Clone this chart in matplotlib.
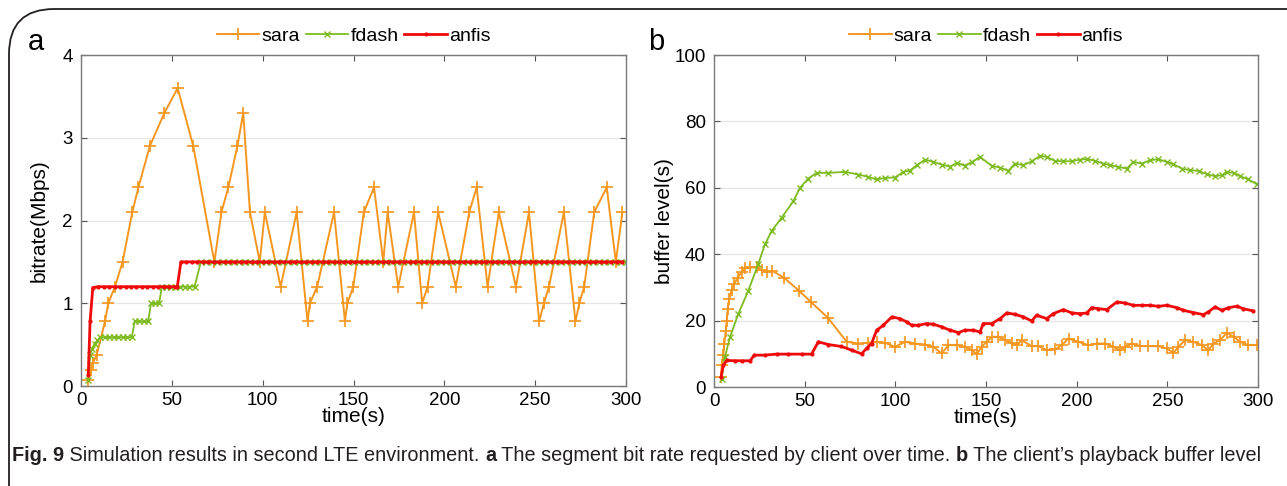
import matplotlib
matplotlib.use("Agg")
import matplotlib.pyplot as plt
from matplotlib.patches import FancyBboxPatch

plt.rcParams['font.family'] = ['Liberation Sans', 'DejaVu Sans']

# ---- (a) requested bitrate, Mbps ----
sara_a_t = [4, 5.5, 6.5, 8.6, 13.2, 15, 18.7, 22.9, 28.2, 31.6, 37.9, 45.9, 53.2,
            61.8, 73.4, 77.3, 81.1, 86.1, 89.3, 93, 98.4, 101.2, 109.9, 118.7,
            124.7, 126, 130, 139.3, 145.3, 146.6, 149.9, 155.7, 161.3, 166.4,
            168.8, 174.6, 183.3, 187.8, 190.8, 196.6, 206.3, 213.7, 217.8, 223.8,
            230, 239.4, 246.6, 252.2, 254.8, 257.6, 265.8, 272.2, 274.3, 277,
            282.5, 289.4, 294.4, 298]
sara_a_v = [0.07, 0.19, 0.28, 0.37, 0.78, 1.0, 1.2, 1.5, 2.1, 2.4, 2.9, 3.3, 3.6,
            2.9, 1.5, 2.1, 2.4, 2.9, 3.3, 2.1, 1.5, 2.1, 1.2, 2.1,
            0.78, 1.0, 1.2, 2.1, 0.78, 1.0, 1.2, 2.1, 2.4, 1.5,
            2.1, 1.2, 2.1, 1.0, 1.2, 2.1, 1.2, 2.1, 2.4, 1.2,
            2.1, 1.2, 2.1, 0.78, 1.0, 1.2, 2.1, 0.78, 1.0, 1.2,
            2.1, 2.4, 1.5, 2.1]

fdash_a_t = [4, 5, 6, 7.5, 9, 10.5, 13, 15.5, 18, 20.5, 23, 25.5, 28, 29.5, 32,
             34.5, 37, 38.5, 41, 43, 44.5, 47, 49.5, 52, 54.5, 57, 59.5, 62.5,
             66, 69, 72, 75, 78, 81, 84, 87, 90, 93, 96, 99, 102, 105, 108, 111,
             114, 117, 120, 123, 126, 129, 132, 135, 138, 141, 144, 147, 150,
             153, 156, 159, 162, 165, 168, 171, 174, 177, 180, 183, 186, 189,
             192, 195, 198, 201, 204, 207, 210, 213, 216, 219, 222, 225, 228,
             231, 234, 237, 240, 243, 246, 249, 252, 255, 258, 261, 264, 267,
             270, 273, 276, 279, 282, 285, 288, 291, 294, 297, 300]
fdash_a_v = [0.07, 0.37, 0.45, 0.51, 0.55, 0.59, 0.59, 0.59, 0.59, 0.59, 0.59,
             0.59, 0.59, 0.78, 0.78, 0.78, 0.78, 1.0, 1.0, 1.0, 1.2, 1.2, 1.2,
             1.2, 1.2, 1.2, 1.2, 1.2,
             1.5, 1.5, 1.5, 1.5, 1.5, 1.5, 1.5, 1.5, 1.5, 1.5, 1.5, 1.5, 1.5,
             1.5, 1.5, 1.5, 1.5, 1.5, 1.5, 1.5, 1.5, 1.5, 1.5, 1.5, 1.5, 1.5,
             1.5, 1.5, 1.5, 1.5, 1.5, 1.5, 1.5, 1.5, 1.5, 1.5, 1.5, 1.5, 1.5,
             1.5, 1.5, 1.5, 1.5, 1.5, 1.5, 1.5, 1.5, 1.5, 1.5, 1.5, 1.5, 1.5,
             1.5, 1.5, 1.5, 1.5, 1.5, 1.5, 1.5, 1.5, 1.5, 1.5, 1.5, 1.5, 1.5,
             1.5, 1.5, 1.5, 1.5, 1.5, 1.5, 1.5, 1.5, 1.5, 1.5, 1.5, 1.5, 1.5,
             1.5]

anfis_a_t = [4, 5, 6.5, 9.5, 12.5, 15.5, 18.5, 21.5, 24.5, 27.5, 30.5, 33.5,
             36.5, 39.5, 42.5, 45.5, 48.5, 51.5, 53, 55, 58, 61, 64, 67, 70, 73,
             76, 79, 82, 85, 88, 91, 94, 97, 100, 103, 106, 109, 112, 115, 118,
             121, 124, 127, 130, 133, 136, 139, 142, 145, 148, 151, 154, 157,
             160, 163, 166, 169, 172, 175, 178, 181, 184, 187, 190, 193, 196,
             199, 202, 205, 208, 211, 214, 217, 220, 223, 226, 229, 232, 235,
             238, 241, 244, 247, 250, 253, 256, 259, 262, 265, 268, 271, 274,
             277, 280, 283, 286, 289, 292, 295, 298]
anfis_a_v = [0.13, 0.78, 1.19, 1.2, 1.2, 1.2, 1.2, 1.2, 1.2, 1.2, 1.2, 1.2,
             1.2, 1.2, 1.2, 1.2, 1.2, 1.2, 1.2, 1.5, 1.5, 1.5, 1.5, 1.5, 1.5,
             1.5, 1.5, 1.5, 1.5, 1.5, 1.5, 1.5, 1.5, 1.5, 1.5, 1.5, 1.5, 1.5,
             1.5, 1.5, 1.5, 1.5, 1.5, 1.5, 1.5, 1.5, 1.5, 1.5, 1.5, 1.5, 1.5,
             1.5, 1.5, 1.5, 1.5, 1.5, 1.5, 1.5, 1.5, 1.5, 1.5, 1.5, 1.5, 1.5,
             1.5, 1.5, 1.5, 1.5, 1.5, 1.5, 1.5, 1.5, 1.5, 1.5, 1.5, 1.5, 1.5,
             1.5, 1.5, 1.5, 1.5, 1.5, 1.5, 1.5, 1.5, 1.5, 1.5, 1.5, 1.5, 1.5,
             1.5, 1.5, 1.5, 1.5, 1.5, 1.5, 1.5, 1.5, 1.5, 1.5, 1.5]

# ---- (b) buffer level, s ----
sara_b_t = [4, 4.2, 5.1, 5.7, 6.5, 7, 7.6, 8.4, 9.7, 11.2, 13, 15.3, 17.1, 19.9,
            23.6, 26.3, 29, 32.2, 38.6, 47.1, 53.5, 62.7, 73.2, 79.6, 85.1,
            89.7, 94.3, 99.8, 105.4, 110.9, 116.4, 121, 125.6, 129.3, 133.9,
            138.4, 142.1, 144.9, 147.6, 150.4, 153.2, 156.8, 160.5, 164.2,
            166.9, 169.7, 175.2, 178.9, 183.5, 188.1, 191.8, 195.5, 201, 206.5,
            211.1, 215.7, 220.3, 224, 226.7, 230.4, 235, 239.6, 245.1, 249.7,
            253.4, 256.1, 259.8, 264.4, 269, 272.6, 275.4, 279, 282.8, 286.5,
            290.2, 294.7, 299.3]
sara_b_v = [3, 6.5, 9.5, 13, 17, 20, 23.6, 26.6, 29.1, 31.1, 32.9, 34.7, 35.7,
            36, 36, 35.2, 34.7, 35, 32.9, 28.9, 25.6, 20.9, 13.6, 13.1, 13.3,
            13.6, 13.3, 12.1, 13.6, 13.1, 12.8, 12.1, 10.1, 12.6, 12.6,
            12.1, 11.1, 9.9, 12.1, 13.6, 15.1, 15.1, 14.1, 13.3,
            12.6, 14.1, 12.3, 12.3, 11.1, 11.3, 12.6, 14.6, 13.6, 12.6,
            13.1, 13.1, 12.1, 11.1, 12.1, 13.1, 12.3, 12.3, 12.3, 11.6,
            10.3, 12.1, 14.1, 13.6, 12.6, 11.1, 13.1, 14.1, 16.3, 15.1,
            13.6, 12.6, 12.6]

fdash_b_t = [4.2, 6, 8.8, 13.4, 18.9, 24.4, 28.1, 31.8, 37.3, 43.8, 47.4, 52,
             56.6, 62.7, 72.3, 79.6, 85, 89.7, 94.3, 99.8, 104.4, 108, 111.8,
             116.4, 121, 125.5, 130.2, 133.9, 138.4, 142.1, 146.7, 153.2, 157.8,
             162.3, 166, 170.6, 175.2, 179.8, 183.5, 188.1, 192.7, 197.3, 201.9,
             205.6, 210.2, 214.7, 218.4, 223, 227.6, 231.3, 235.9, 240.5, 245.1,
             249.7, 253.4, 258, 262.6, 267.2, 271.7, 276.3, 280, 282.8, 286.5,
             290.2, 294.7, 299.3]
fdash_b_v = [2.5, 9, 15, 22, 29, 37, 43, 47, 51, 56, 60, 62.8,
             64.5, 64.5, 64.8, 64, 63.3, 62.5, 63, 63.1, 64.8, 65.2, 66.8,
             68.5, 67.8, 67, 66.4, 67.5, 66.7, 67.7, 69.3, 66.6, 66.1,
             65.1, 67.3, 66.8, 68, 69.6, 69.3, 68.1, 68, 68, 68.5,
             68.7, 68.1, 67.3, 66.8, 66.3, 65.8, 67.8, 67.3, 68.3, 68.6,
             67.8, 67.1, 65.8, 65.3, 65.1, 64.1, 63.5, 63.8, 64.8, 64.5,
             63.5, 62.5, 61.1]

anfis_b_t = [3.9, 5.1, 7, 11.6, 15.5, 19.9, 22.2, 28.1, 34.5, 40.9, 48.3, 53.8,
             57.5, 63, 70.3, 75.9, 81.4, 84.1, 86.9, 89.7, 93.4, 98, 102.5,
             106.3, 109, 112.7, 117.3, 121, 125.6, 130.2, 134.8, 138.4, 143,
             146.7, 148.5, 153.2, 157.8, 161.4, 166, 170.6, 175.2, 177.9, 183.5,
             187.1, 192.7, 197.3, 201.9, 205.6, 208.3, 212, 216.6, 222.1, 226.7,
             231.3, 235.9, 240.5, 245.1, 249.7, 255.2, 258.9, 264.4, 269.9,
             272.6, 276.3, 280, 283.7, 288.3, 291.9, 297.4]
anfis_b_v = [3, 6.5, 8, 7.9, 7.9, 7.9, 9.6, 9.6, 9.9, 9.9, 9.9, 9.9,
             13.6, 12.8, 12.2, 11.1, 10, 11.6, 13.1, 17.1, 18.6, 21.1, 20.6,
             19.6, 18.6, 18.6, 19.1, 18.9, 18.1, 17.1, 16.4, 17.1, 17.1,
             16.6, 19.1, 19.1, 20.6, 22.3, 21.9, 21.1, 19.9, 21.6, 20.6,
             22.1, 23.3, 22.3, 22.1, 22.3, 23.9, 23.6, 23.3, 25.6, 25.3,
             24.6, 24.6, 24.6, 24.3, 24.6, 23.9, 23.1, 22.4, 21.8,
             22.6, 24.1, 23.1, 23.9, 24.3, 23.6, 22.9]

ORANGE = '#F5961F'
GREEN = '#7DBB21'
RED = '#EE0A0A'

W, H = 1287, 486
fig = plt.figure(figsize=(W / 100, H / 100), dpi=100)

# rounded frame around the figure panel
fig.patches.append(FancyBboxPatch((9 / W, -0.2), 1.2, 1.2 - 9 / H,
                                  boxstyle="round,pad=0,rounding_size=0.035",
                                  transform=fig.transFigure, fill=False,
                                  edgecolor='#231f20', linewidth=1.3,
                                  mutation_aspect=W / H))

ax1 = fig.add_axes([81 / W, 1 - 386 / H, 545 / W, 331 / H])
ax2 = fig.add_axes([714 / W, 1 - 387 / H, 544 / W, 332 / H])


def draw(ax, st, sv, ft, fv, at, av):
    ax.plot(st, sv, '-', color=ORANGE, lw=1.4, marker='+', ms=8, mew=1.2,
            label='sara')
    ax.plot(ft, fv, '-', color=GREEN, lw=1.3, marker='x', ms=5, mew=1.0,
            label='fdash')
    ax.plot(at, av, '-', color=RED, lw=2.0, marker='.', ms=4,
            label='anfis')
    ax.set_xlim(0, 300)
    ax.set_xticks(range(0, 301, 50))
    ax.grid(axis='y', color='#e6e6e6', lw=1.0)
    ax.set_axisbelow(True)
    ax.tick_params(direction='in', top=True, right=True, length=4,
                   labelsize=13.5, color='#555555')
    ax.tick_params(axis='x', pad=4)
    ax.tick_params(axis='y', pad=6)
    for s in ax.spines.values():
        s.set_color('#7a7a7a')
        s.set_linewidth(1.0)
    ax.set_xlabel('time(s)', fontsize=15, labelpad=-1)
    ax.legend(loc='lower center', bbox_to_anchor=(0.5, 1.0), ncol=3,
              frameon=False, fontsize=14, handlelength=2.2, handletextpad=0.1,
              columnspacing=0.3, borderaxespad=0.1)


draw(ax1, sara_a_t, sara_a_v, fdash_a_t, fdash_a_v, anfis_a_t, anfis_a_v)
ax1.set_ylim(0, 4)
ax1.set_yticks([0, 1, 2, 3, 4])
ax1.set_ylabel('bitrate(Mbps)', fontsize=15, labelpad=10)

draw(ax2, sara_b_t, sara_b_v, fdash_b_t, fdash_b_v, anfis_b_t, anfis_b_v)
ax2.set_ylim(0, 100)
ax2.set_yticks(range(0, 101, 20))
ax2.set_ylabel('buffer level(s)', fontsize=15, labelpad=0)

fig.text(28 / W, 1 - 50 / H, 'a', fontsize=21)
fig.text(648 / W, 1 - 50 / H, 'b', fontsize=21)

# caption with bold runs
cap = [('Fig. 9', 'bold'), (' Simulation results in second LTE environment. ', 'normal'),
       ('a', 'bold'), (' The segment bit rate requested by client over time. ', 'normal'),
       ('b', 'bold'), (' The client\u2019s playback buffer level', 'normal')]
fig.canvas.draw()
r = fig.canvas.get_renderer()
x = 12 / W
for txt, wt in cap:
    t = fig.text(x, 1 - 461 / H, txt, fontsize=14.3, fontweight=wt,
                 color='#231f20')
    bb = t.get_window_extent(renderer=r)
    x += bb.width / W

fig.savefig('out.png', dpi=100)
